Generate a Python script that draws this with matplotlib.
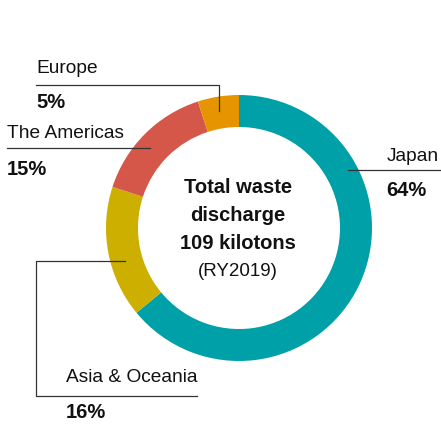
"""Donut chart of total waste discharge by region (RY2019)."""

import matplotlib.pyplot as plt

regions = ["Japan", "Asia & Oceania", "The Americas", "Europe"]
shares = [64, 16, 15, 5]
colors = ["#00A0A9", "#CDAF00", "#D4574A", "#E69500"]
center_lines = ["Total waste", "discharge", "109 kilotons", "(RY2019)"]

W, H = 441, 428
FONT = ["Liberation Sans", "DejaVu Sans"]


def py(y):
    # pixel row (from top) -> axes y
    return H - y


fig = plt.figure(figsize=(W / 100, H / 100), dpi=100)
ax = fig.add_axes([0, 0, 1, 1])

ax.pie(
    shares,
    colors=colors,
    startangle=90,
    counterclock=False,
    radius=133,
    center=(239, py(228)),
    wedgeprops=dict(width=32, linewidth=0),
)
ax.set_xlim(0, W)
ax.set_ylim(0, H)
ax.set_aspect("equal")
ax.axis("off")

# centre text
for i, line in enumerate(center_lines):
    bold = i < 3
    ax.text(238, py(187 + i * 28.3), line, ha="center", va="center",
            fontsize=14.5 if bold else 13.5, family=FONT,
            fontweight="bold" if bold else "normal", color="#111111")

line_kw = dict(color="#333333", linewidth=0.9)

# label: (name, pct, name xy, pct xy, leader path)
labels = [
    ("Europe", shares[3], (36, 68), (36, 102),
     [(36, 85), (219, 85), (219, 111)]),
    ("The Americas", shares[2], (7, 133), (7, 169),
     [(7, 148), (150, 148)]),
    ("Japan", shares[0], (387, 156), (386, 190),
     [(348, 170), (441, 170)]),
    ("Asia & Oceania", shares[1], (66, 378), (66, 413),
     [(125, 261), (36, 261), (36, 396), (197, 396)]),
]

for name, pct, (nx, ny), (px_, pyy), path in labels:
    ax.text(nx, py(ny), name, ha="left", va="center", fontsize=13.8,
            family=FONT, fontweight="normal", color="#111111")
    ax.text(px_, py(pyy), f"{pct}%", ha="left", va="center", fontsize=14.5,
            family=FONT, fontweight="bold", color="#111111")
    xs = [p[0] for p in path]
    ys = [py(p[1]) for p in path]
    ax.plot(xs, ys, **line_kw)

fig.savefig("out.png", dpi=100)
